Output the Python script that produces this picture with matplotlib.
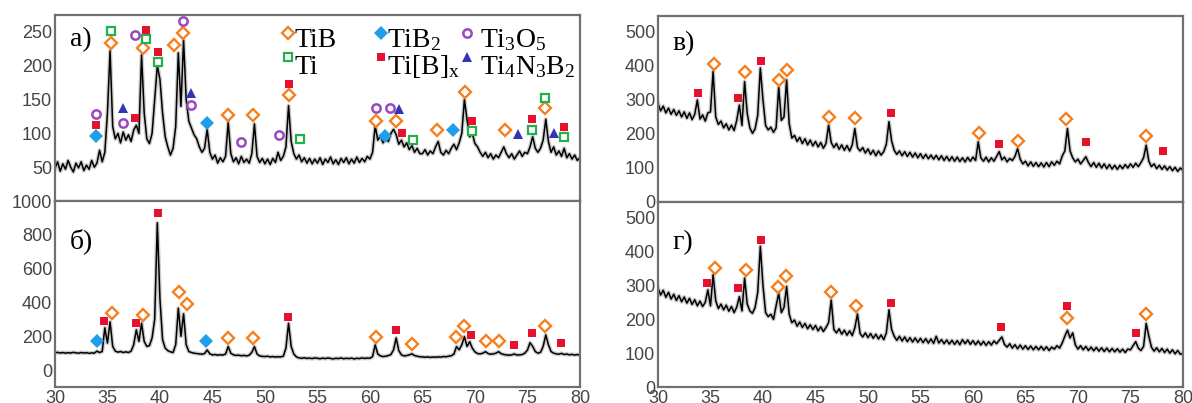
import numpy as np
import matplotlib.pyplot as plt

plt.rcParams['font.family'] = ['Liberation Sans', 'DejaVu Sans']
plt.rcParams['mathtext.fontset'] = 'custom'
plt.rcParams['mathtext.rm'] = 'Liberation Serif'
plt.rcParams['mathtext.it'] = 'Liberation Serif:italic'

# 2theta grid, step 0.25 deg
two_theta = np.arange(30, 80.001, 0.25)

# intensities, one row per 5 deg
a_counts = [
    48, 58, 44, 55, 47, 60, 50, 43, 56, 49, 58, 45, 53, 47, 60, 50, 56, 75, 58, 72,
    130, 222, 110, 92, 100, 86, 102, 90, 98, 88, 105, 112, 100, 216, 130, 92, 85, 100, 150, 200,
    180, 130, 95, 80, 68, 78, 110, 219, 140, 238, 150, 118, 108, 98, 92, 80, 72, 78, 106, 72,
    62, 68, 56, 64, 58, 66, 116, 70, 58, 64, 55, 66, 57, 62, 56, 70, 114, 66, 57, 63,
    55, 62, 54, 63, 57, 72, 60, 66, 80, 141, 88, 70, 62, 68, 58, 64, 56, 63, 55, 62,
    56, 64, 54, 62, 57, 65, 55, 61, 54, 63, 57, 64, 55, 62, 56, 65, 57, 63, 58, 66,
    62, 72, 111, 90, 96, 86, 94, 88, 100, 106, 98, 84, 90, 80, 86, 76, 82, 72, 78, 70,
    70, 76, 68, 74, 70, 80, 88, 72, 68, 75, 70, 78, 84, 76, 86, 100, 150, 120, 95, 100,
    85, 80, 72, 66, 72, 64, 70, 62, 68, 64, 72, 80, 70, 64, 70, 62, 68, 74, 66, 72,
    70, 80, 95, 78, 72, 78, 90, 121, 88, 72, 80, 68, 74, 66, 78, 64, 70, 62, 68, 60,
    64,
]

b_counts = [
    102, 105, 101, 104, 100, 103, 101, 105, 102, 100, 104, 101, 103, 99, 102, 100, 112, 104, 110, 250,
    160, 285, 140, 112, 106, 110, 104, 108, 104, 112, 150, 238, 170, 277, 170, 140, 145, 190, 300, 871,
    420, 180, 130, 115, 108, 104, 150, 366, 200, 333, 150, 110, 104, 100, 98, 96, 94, 98, 119, 96,
    90, 92, 88, 91, 89, 95, 139, 100, 90, 87, 88, 85, 87, 84, 88, 105, 139, 95, 84, 81,
    80, 82, 78, 80, 77, 79, 78, 82, 130, 277, 140, 95, 78, 72, 70, 73, 69, 71, 68, 72,
    70, 67, 71, 68, 72, 69, 66, 70, 68, 72, 67, 70, 68, 71, 66, 70, 68, 72, 69, 71,
    70, 80, 149, 95, 84, 80, 82, 86, 92, 120, 190, 115, 90, 84, 86, 90, 96, 86, 82, 79,
    78, 76, 78, 75, 77, 76, 78, 77, 80, 79, 82, 85, 95, 139, 120, 150, 198, 140, 168, 130,
    108, 98, 96, 100, 109, 98, 94, 96, 100, 109, 97, 92, 90, 88, 90, 95, 89, 90, 92, 100,
    118, 162, 140, 110, 100, 105, 140, 208, 150, 110, 100, 96, 94, 99, 92, 95, 90, 93, 89, 92,
    89,
]

v_counts = [
    290, 268, 282, 262, 276, 258, 272, 255, 268, 250, 265, 246, 262, 242, 258, 300, 244, 256, 238, 262,
    265, 384, 250, 228, 238, 218, 230, 212, 226, 210, 240, 285, 225, 354, 260, 218, 202, 215, 255, 394,
    300, 225, 212, 220, 205, 218, 338, 240, 250, 359, 230, 188, 196, 178, 190, 172, 186, 168, 182, 165,
    178, 162, 175, 158, 172, 226, 175, 160, 172, 155, 168, 152, 166, 150, 168, 216, 160, 150, 160, 144,
    156, 140, 152, 136, 150, 138, 148, 170, 236, 180, 152, 140, 150, 136, 148, 134, 146, 132, 144, 130,
    142, 128, 140, 127, 138, 126, 137, 124, 136, 122, 134, 121, 133, 120, 132, 119, 130, 118, 131, 120,
    132, 122, 177, 130, 120, 132, 118, 130, 120, 134, 148, 124, 132, 118, 128, 122, 134, 157, 126, 112,
    120, 106, 118, 105, 116, 104, 115, 103, 116, 104, 118, 108, 120, 112, 135, 150, 216, 150, 130, 118,
    126, 112, 122, 133, 116, 104, 116, 102, 114, 100, 112, 98, 110, 97, 108, 96, 108, 98, 110, 100,
    112, 102, 114, 104, 116, 130, 167, 120, 104, 112, 98, 108, 96, 106, 94, 104, 92, 102, 90, 100,
    93,
]

g_counts = [
    292, 272, 286, 265, 280, 260, 274, 256, 270, 252, 266, 248, 262, 244, 258, 240, 254, 238, 250, 287,
    240, 332, 255, 232, 245, 228, 242, 224, 238, 220, 236, 267, 225, 322, 245, 225, 218, 235, 280, 416,
    300, 220, 208, 215, 200, 240, 277, 220, 235, 297, 215, 190, 198, 180, 192, 176, 188, 172, 184, 170,
    182, 166, 178, 164, 176, 190, 257, 170, 160, 172, 156, 168, 153, 166, 152, 175, 216, 158, 148, 160,
    146, 158, 144, 156, 142, 154, 140, 160, 228, 170, 150, 138, 150, 136, 148, 134, 146, 133, 145, 132,
    144, 131, 143, 130, 142, 129, 150, 130, 140, 128, 139, 127, 138, 126, 137, 125, 140, 128, 139, 126,
    137, 125, 136, 124, 135, 123, 134, 124, 136, 128, 138, 148, 126, 118, 128, 115, 125, 113, 124, 112,
    122, 111, 121, 110, 120, 110, 120, 109, 119, 108, 118, 112, 122, 115, 130, 150, 168, 145, 160, 125,
    112, 122, 110, 120, 108, 118, 107, 117, 106, 116, 105, 115, 104, 114, 104, 113, 103, 112, 102, 112,
    110, 122, 134, 115, 108, 120, 188, 150, 118, 106, 116, 104, 114, 102, 112, 100, 110, 98, 108, 97,
    99,
]

# phase markers: (phase, 2theta, height)
a_marks = [
    ("Ti3O5", 33.9, 129), ("TiBx", 33.9, 112), ("TiB2", 33.9, 96),
    ("Ti", 35.3, 251), ("TiB", 35.3, 234),
    ("Ti4N3B2", 36.5, 137), ("Ti3O5", 36.5, 116),
    ("TiBx", 37.6, 123), ("Ti3O5", 37.6, 246),
    ("TiB", 38.35, 226), ("Ti", 38.7, 240), ("TiBx", 38.7, 253),
    ("TiBx", 39.85, 220), ("Ti", 39.85, 205),
    ("TiB", 41.35, 231), ("TiB", 42.15, 248), ("Ti3O5", 42.15, 266),
    ("Ti4N3B2", 43.0, 160), ("Ti3O5", 43.0, 142),
    ("TiB2", 44.45, 116), ("TiB", 46.45, 127), ("Ti3O5", 47.7, 87),
    ("TiB", 48.9, 127), ("Ti3O5", 51.3, 98),
    ("TiB", 52.3, 157), ("TiBx", 52.3, 173), ("Ti", 53.3, 92),
    ("TiB", 60.6, 119), ("Ti3O5", 60.6, 138), ("TiB2", 61.4, 96),
    ("Ti3O5", 61.9, 138), ("TiB", 62.45, 119), ("Ti4N3B2", 62.8, 136),
    ("TiBx", 63.1, 101), ("Ti", 64.1, 90), ("TiB", 66.4, 105),
    ("TiB2", 67.9, 105), ("TiB", 69.05, 161), ("TiBx", 69.7, 118), ("Ti", 69.7, 104),
    ("TiB", 72.9, 105), ("Ti4N3B2", 74.1, 99),
    ("TiBx", 75.4, 121), ("Ti", 75.4, 105),
    ("TiB", 76.7, 137), ("Ti", 76.7, 152), ("Ti4N3B2", 77.5, 100),
    ("TiBx", 78.5, 110), ("Ti", 78.5, 95),
]

b_marks = [
    ("TiB2", 34.0, 174), ("TiBx", 34.7, 293), ("TiB", 35.4, 340),
    ("TiBx", 37.7, 277), ("TiB", 38.35, 327), ("TiBx", 39.85, 927),
    ("TiB", 41.8, 459), ("TiB", 42.6, 392), ("TiB2", 44.4, 172),
    ("TiB", 46.45, 192), ("TiB", 48.9, 192), ("TiBx", 52.2, 313),
    ("TiB", 60.6, 198), ("TiBx", 62.5, 238), ("TiB", 64.0, 154),
    ("TiB", 68.2, 194), ("TiB", 68.95, 261), ("TiBx", 69.6, 208),
    ("TiB", 71.05, 172), ("TiB", 72.3, 172), ("TiBx", 73.7, 148),
    ("TiBx", 75.4, 222), ("TiB", 76.7, 261), ("TiBx", 78.2, 158),
]

v_marks = [
    ("TiBx", 33.8, 322), ("TiB", 35.3, 406), ("TiBx", 37.65, 305),
    ("TiB", 38.3, 381), ("TiBx", 39.8, 415), ("TiB", 41.55, 359),
    ("TiB", 42.3, 387), ("TiB", 46.3, 251), ("TiB", 48.8, 246),
    ("TiBx", 52.15, 261), ("TiB", 60.6, 202), ("TiBx", 62.5, 170),
    ("TiB", 64.3, 180), ("TiB", 68.9, 244), ("TiBx", 70.8, 175),
    ("TiB", 76.5, 194), ("TiBx", 78.1, 150),
]

g_marks = [
    ("TiBx", 34.7, 307), ("TiB", 35.4, 353), ("TiBx", 37.65, 294),
    ("TiB", 38.35, 345), ("TiBx", 39.8, 436), ("TiB", 41.4, 297),
    ("TiB", 42.2, 327), ("TiB", 46.45, 282), ("TiB", 48.9, 240),
    ("TiBx", 52.15, 249), ("TiBx", 62.7, 176), ("TiBx", 69.0, 238),
    ("TiB", 69.0, 205), ("TiBx", 75.5, 160), ("TiB", 76.5, 215),
]

phase_style = {
    "TiB": dict(marker='D', ms=6, mfc='white', mec='#f7801e', mew=1.7),
    "Ti": dict(marker='s', ms=5.2, mfc='white', mec='#23b14d', mew=1.6),
    "TiB2": dict(marker='D', ms=7.3, mfc='#1f9fe8', mec='#1f9fe8', mew=0),
    "TiBx": dict(marker='s', ms=6.2, mfc='#e8112d', mec='#e8112d', mew=0),
    "Ti3O5": dict(marker='o', ms=6, mfc='white', mec='#9a48c0', mew=1.8),
    "Ti4N3B2": dict(marker='^', ms=7, mfc='#3434b8', mec='#3434b8', mew=0),
}
phase_label = {
    "TiB": "TiB", "Ti": "Ti", "TiB2": "TiB$_2$", "TiBx": r"Ti[B]$_\mathrm{x}$",
    "Ti3O5": "Ti$_3$O$_5$", "Ti4N3B2": "Ti$_4$N$_3$B$_2$",
}

serif = 'Liberation Serif'


def draw_panel(ax, counts, marks, ylim, yticks, label, label_y):
    ax.plot(two_theta, counts, color='0.5', lw=3.0, alpha=0.4)
    ax.plot(two_theta, counts, color='black', lw=1.1)
    for name, x, y in marks:
        ax.plot(x, y, ls='none', **phase_style[name])
    ax.set_xlim(30, 80)
    ax.set_ylim(*ylim)
    ax.set_yticks(yticks)
    ax.set_xticks(np.arange(30, 81, 5))
    ax.tick_params(length=0, labelsize=13, labelcolor='#454545', pad=2)
    ax.tick_params(axis='x', pad=2)
    for s in ax.spines.values():
        s.set_color('#707070')
        s.set_linewidth(1.6)
    ax.text(0.028, label_y, label, transform=ax.transAxes, fontsize=20,
            family=serif, va='center', ha='left')


fig = plt.figure(figsize=(11.92, 4.03), dpi=100)
ax_a = fig.add_axes([0.0461, 0.5012, 0.4404, 0.4615])
ax_b = fig.add_axes([0.0461, 0.0397, 0.4404, 0.4615])
ax_v = fig.add_axes([0.5520, 0.4988, 0.4404, 0.4615])
ax_g = fig.add_axes([0.5520, 0.0397, 0.4404, 0.4591])

draw_panel(ax_a, a_counts, a_marks, (0, 275), [50, 100, 150, 200, 250], "а)", 0.866)
draw_panel(ax_b, b_counts, b_marks, (-100, 1000), [0, 200, 400, 600, 800, 1000], "б)", 0.785)
draw_panel(ax_v, v_counts, v_marks, (0, 547), [0, 100, 200, 300, 400, 500], "в)", 0.852)
draw_panel(ax_g, g_counts, g_marks, (0, 547), [0, 100, 200, 300, 400, 500], "г)", 0.781)
for ax in (ax_a, ax_v):
    ax.tick_params(axis='x', labelbottom=False)

# legend of phases, two rows by three columns
legend_cols = [(0.444, ["TiB", "Ti"]), (0.621, ["TiB2", "TiBx"]), (0.785, ["Ti3O5", "Ti4N3B2"])]
row_marker_y = [0.905, 0.772]
row_text_y = [0.826, 0.683]
for cx, names in legend_cols:
    for r, name in enumerate(names):
        ax_a.plot(cx, row_marker_y[r], ls='none', transform=ax_a.transAxes,
                  clip_on=False, **phase_style[name])
        ax_a.text(cx + 0.012 + (0.012 if cx > 0.7 else 0), row_text_y[r], phase_label[name],
                  transform=ax_a.transAxes, fontsize=20, family=serif, va='baseline')

fig.savefig('out.png', dpi=100)
